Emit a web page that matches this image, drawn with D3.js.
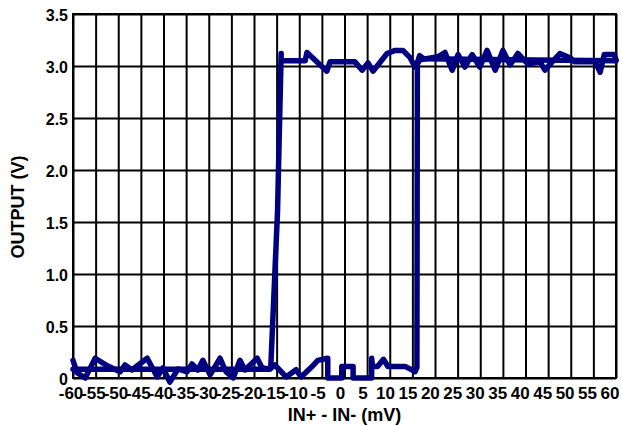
<!DOCTYPE html>
<html>
<head>
<meta charset="utf-8">
<script src="https://cdn.jsdelivr.net/npm/d3@7"></script>
<style>
  body { margin: 0; background: #fff; }
  svg text { font-family: "Liberation Sans", Arial, sans-serif; font-weight: bold; fill: #000; }
  .xlab text { font-family: "Liberation Sans Narrow", "Arial Narrow", "Liberation Sans", sans-serif; }
</style>
</head>
<body>
<svg id="chart" width="621" height="425"></svg>
<script>
// tick values
var xTicks = d3.range(-60, 61, 5);
var yTicks = [0, 0.5, 1.0, 1.5, 2.0, 2.5, 3.0, 3.5];

// rising sweep (-60 -> 60 mV)
var upX = [-60, -59.1, -57.3, -55.1, -52.3, -49.6, -48.5, -47.0, -43.6, -41.4,
           -40.1, -38.6, -36.8, -34.8, -33.7, -32.4, -31.3, -29.7, -27.5, -26.2,
           -24.6, -23.1, -22.0, -19.3, -18.2, -16.5, -16.3, -14.8, -14.0,
           -14.0, -8.7, -8.3, -3.9, -3.2, 2.3, 3.9, 5.2, 6.3, 9.4,
           11.2, 12.9, 14.5, 15.6, 16.7, 20.7, 22.2, 23.8, 25.1, 26.6,
           28.2, 29.9, 31.5, 33.3, 35.0, 36.6, 38.3, 40.5, 43.2, 44.3,
           45.9, 47.6, 49.8, 50.9, 55.4, 56.5, 57.4, 59.6, 60];
var upY = [0.17, 0.05, 0.0, 0.19, 0.115, 0.06, 0.125, 0.077, 0.19, 0.01,
           0.096, -0.04, 0.087, 0.06, 0.135, 0.077, 0.17, 0.03, 0.19, 0.06,
           0.0, 0.17, 0.077, 0.19, 0.096, 0.087, 0.1, 1.6, 3.12,
           3.05, 3.05, 3.13, 2.95, 3.04, 3.04, 2.96, 3.03, 2.95, 3.12,
           3.15, 3.15, 3.08, 2.99, 3.06, 3.09, 3.13, 2.96, 3.11, 2.99,
           3.11, 2.99, 3.15, 2.96, 3.15, 3.01, 3.12, 3.02, 3.04, 2.96,
           3.04, 3.12, 3.08, 3.04, 3.04, 2.94, 3.11, 3.11, 3.06];

// falling sweep (60 -> -60 mV)
var downX = [60, 17.5, 16.6, 16.1, 16.0, 15.6, 14.8, 13.5, 9.6, 8.6,
             7.3, 6.2, 6.0, 6.0, 1.9, 1.9, -0.6, -0.6, -3.7, -3.7,
             -5.9, -7.4, -9.6, -10.7, -12.9, -15.4, -16.5, -60];
var downY = [3.05, 3.07, 3.1, 3.03, 0.1, 0.06, 0.08, 0.11, 0.11, 0.18,
             0.11, 0.11, 0.19, 0.0, 0.0, 0.11, 0.11, 0.0, 0.0, 0.19,
             0.17, 0.1, 0.01, 0.08, 0.01, 0.125, 0.085, 0.085];

var svg = d3.select('#chart');
var mLeft = 73, mRight = 616, mTop = 14, mBottom = 378;

var x = d3.scaleLinear().domain([-60, 60]).range([mLeft, mRight]);
var y = d3.scaleLinear().domain([0, 3.5]).range([mBottom, mTop]);

// grid
svg.append('g')
    .attr('class', 'xgrid')
    .attr('transform', 'translate(0,' + mBottom + ')')
    .call(d3.axisBottom(x).tickValues(xTicks).tickSize(-(mBottom - mTop)).tickFormat(''))
    .call(function (g) { g.select('.domain').remove(); });
svg.append('g')
    .attr('class', 'ygrid')
    .attr('transform', 'translate(' + mLeft + ',0)')
    .call(d3.axisLeft(y).tickValues(yTicks).tickSize(-(mRight - mLeft)).tickFormat(''))
    .call(function (g) { g.select('.domain').remove(); });
svg.selectAll('.xgrid line, .ygrid line')
    .attr('stroke', '#000')
    .attr('stroke-width', 2);
svg.append('rect')
    .attr('x', mLeft).attr('y', mTop)
    .attr('width', mRight - mLeft).attr('height', mBottom - mTop)
    .attr('fill', 'none').attr('stroke', '#000').attr('stroke-width', 2);

// tick labels
var xlab = svg.append('g')
    .attr('class', 'xlab')
    .attr('transform', 'translate(0,' + mBottom + ')')
    .call(d3.axisBottom(x).tickValues(xTicks).tickSize(0).tickPadding(9)
        .tickFormat(function (d) { return String(d); }));
xlab.select('.domain').remove();
// labels sit a little left and closer together, so "60" stays on the page
xlab.selectAll('text')
    .style('font-size', '17px')
    .attr('x', function (d) { return -4.5 - d / 30; });

var ylab = svg.append('g')
    .attr('transform', 'translate(' + (mLeft - 4) + ',0)')
    .call(d3.axisLeft(y).tickValues(yTicks).tickSize(0).tickPadding(1)
        .tickFormat(function (d) { return d === 0 ? '0' : d3.format('.1f')(d); }));
ylab.select('.domain').remove();
ylab.selectAll('text').style('font-size', '16px').attr('dy', '0.4em');

// axis titles
svg.append('text')
    .attr('x', (mLeft + mRight) / 2).attr('y', 421)
    .attr('text-anchor', 'middle')
    .style('font-size', '18px')
    .text('IN+ - IN- (mV)');
svg.append('text')
    .attr('transform', 'translate(24,207) rotate(-90)')
    .attr('text-anchor', 'middle')
    .style('font-size', '18px')
    .text('OUTPUT (V)');

// traces
var line = d3.line()
    .x(function (d) { return x(d[0]); })
    .y(function (d) { return y(d[1]); });
var upData = d3.zip(upX, upY);
var downData = d3.zip(downX, downY);
[downData, upData].forEach(function (dat) {
    svg.append('path')
        .datum(dat)
        .attr('d', line)
        .attr('fill', 'none')
        .attr('stroke', '#000080')
        .attr('stroke-width', 5.5)
        .attr('stroke-linejoin', 'round')
        .attr('stroke-linecap', 'round');
});
</script>
</body>
</html>
